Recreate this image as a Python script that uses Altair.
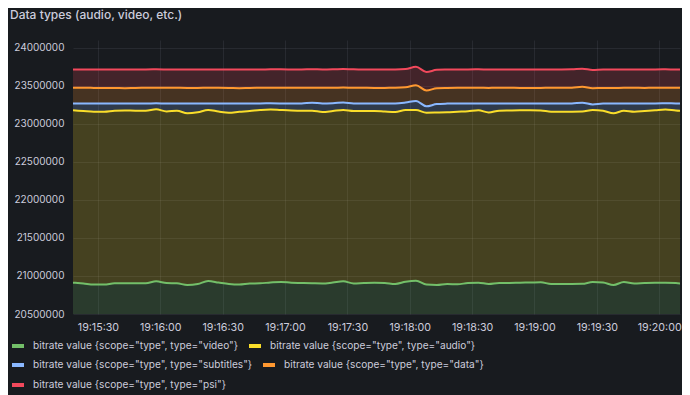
import altair as alt
import pandas as pd

# ---- data (values are stacked tops) ----
series_types = ["video", "audio", "subtitles", "data", "psi"]
series_colors = ["#73BF69", "#FADE2A", "#8AB8FF", "#FF9830", "#F2495C"]

# sample times: every 5 s from 19:15:18 to 19:20:13
times = pd.date_range("2024-01-01 19:15:18", periods=60, freq="5s")

video_top = [20912000, 20901000, 20888000, 20888000, 20904000, 20904000, 20904000, 20904000, 20930000, 20908000,
             20904000, 20882000, 20895000, 20934000, 20914000, 20895000, 20888000, 20901000, 20904000, 20914000,
             20921000, 20912000, 20908000, 20904000, 20901000, 20914000, 20930000, 20901000, 20908000, 20912000,
             20908000, 20895000, 20924000, 20937000, 20888000, 20882000, 20895000, 20891000, 20908000, 20912000,
             20895000, 20908000, 20908000, 20912000, 20914000, 20917000, 20895000, 20895000, 20895000, 20897000,
             20921000, 20914000, 20882000, 20921000, 20901000, 20908000, 20912000, 20912000, 20908000, 20885000]

audio_top = [23180000, 23171000, 23162000, 23162000, 23175000, 23178000, 23175000, 23175000, 23193000, 23164000,
             23175000, 23141000, 23154000, 23184000, 23164000, 23149000, 23161000, 23171000, 23184000, 23191000,
             23184000, 23178000, 23175000, 23175000, 23158000, 23171000, 23184000, 23171000, 23171000, 23171000,
             23164000, 23158000, 23184000, 23184000, 23149000, 23151000, 23154000, 23161000, 23167000, 23180000,
             23151000, 23175000, 23178000, 23180000, 23180000, 23178000, 23162000, 23162000, 23162000, 23164000,
             23184000, 23175000, 23141000, 23175000, 23162000, 23171000, 23180000, 23191000, 23178000, 23171000]

subtitles_top = [23268000, 23270000, 23270000, 23269000, 23270000, 23271000, 23270000, 23270000, 23272000, 23270000,
                 23270000, 23268000, 23269000, 23271000, 23270000, 23269000, 23270000, 23270000, 23271000, 23272000,
                 23271000, 23270000, 23271000, 23281000, 23271000, 23272000, 23284000, 23271000, 23270000, 23270000,
                 23270000, 23270000, 23282000, 23303000, 23232000, 23262000, 23268000, 23270000, 23270000, 23271000,
                 23268000, 23270000, 23271000, 23271000, 23271000, 23271000, 23270000, 23270000, 23271000, 23280000,
                 23258000, 23268000, 23268000, 23270000, 23270000, 23271000, 23271000, 23272000, 23271000, 23270000]

data_top = [23476000, 23476000, 23475000, 23475000, 23474000, 23470000, 23474000, 23476000, 23477000, 23476000,
            23476000, 23475000, 23475000, 23476000, 23476000, 23474000, 23470000, 23474000, 23476000, 23477000,
            23477000, 23476000, 23476000, 23478000, 23476000, 23476000, 23480000, 23476000, 23476000, 23475000,
            23475000, 23476000, 23482000, 23510000, 23440000, 23470000, 23474000, 23476000, 23476000, 23477000,
            23475000, 23476000, 23476000, 23475000, 23474000, 23475000, 23476000, 23476000, 23478000, 23490000,
            23470000, 23474000, 23474000, 23476000, 23476000, 23475000, 23476000, 23477000, 23476000, 23476000]

psi_top = [23718000, 23718000, 23717000, 23717000, 23718000, 23716000, 23718000, 23718000, 23719000, 23718000,
           23718000, 23717000, 23718000, 23718000, 23718000, 23717000, 23716000, 23718000, 23718000, 23719000,
           23719000, 23718000, 23718000, 23720000, 23718000, 23719000, 23724000, 23719000, 23718000, 23717000,
           23717000, 23718000, 23724000, 23752000, 23684000, 23712000, 23716000, 23718000, 23718000, 23719000,
           23717000, 23718000, 23718000, 23718000, 23717000, 23717000, 23718000, 23718000, 23720000, 23728000,
           23710000, 23716000, 23716000, 23718000, 23718000, 23717000, 23718000, 23719000, 23718000, 23718000]

y_ticks = [20500000, 21000000, 21500000, 22000000, 22500000, 23000000, 23500000, 24000000]
x_tick_times = ["19:15:30", "19:16:00", "19:16:30", "19:17:00", "19:17:30",
                "19:18:00", "19:18:30", "19:19:00", "19:19:30", "19:20:00"]

# ---- build the long table ----
labels = [f'bitrate value {{scope="type", type="{s}"}}' for s in series_types]
tops = [video_top, audio_top, subtitles_top, data_top, psi_top]
rows = []
for k, lab in enumerate(labels):
    for i, t in enumerate(times):
        rows.append({
            "time": t.strftime("%Y-%m-%dT%H:%M:%S"),
            "label": lab,
            "label_b": lab,
            "band": lab,
            "top": tops[k][i],
            "bottom": tops[k - 1][i] if k > 0 else 0,
        })
df = pd.DataFrame(rows)


def dt(hms):
    h, m, s = (int(v) for v in hms.split(":"))
    return alt.DateTime(year=2024, month=1, date=1, hours=h, minutes=m, seconds=s)


TXT = "#ccccdc"
FONT = "Inter"
LFS = 10.1

x_enc = alt.X(
    "time:T",
    title=None,
    scale=alt.Scale(domain=[dt("19:15:18"), dt("19:20:10")]),
    axis=alt.Axis(values=[dt(v) for v in x_tick_times], format="%H:%M:%S",
                  labelColor=TXT, labelFontSize=10.7, labelFont=FONT, ticks=False,
                  domain=False, labelPadding=8, gridColor=TXT, gridOpacity=0.09,
                  labelFlush=False),
)
y_scale = alt.Scale(domain=[20500000, 24105000], nice=False, zero=False)
y_enc = alt.Y(
    "top:Q",
    title=None,
    scale=y_scale,
    axis=alt.Axis(values=y_ticks, format="d", labelColor=TXT, labelFontSize=10,
                  labelFont=FONT, ticks=False, domain=False, labelPadding=9,
                  gridColor=TXT, gridOpacity=0.09),
)


def legend_params(ly):
    return dict(
        title=None, orient="none", legendX=-63, legendY=ly,
        direction="horizontal", columns=2,
        symbolType="stroke", symbolStrokeWidth=4, symbolSize=144,
        labelColor=TXT, labelFontSize=LFS, labelFont=FONT, labelLimit=0,
        columnPadding=2, rowPadding=4, labelOffset=7,
    )


base = alt.Chart(df)

area = base.mark_area(interpolate="monotone", fillOpacity=0.2, clip=True).encode(
    x=x_enc,
    y=y_enc,
    y2="bottom:Q",
    fill=alt.Fill("band:N", scale=alt.Scale(domain=labels, range=series_colors), legend=None),
)

line_a = base.transform_filter(
    alt.FieldOneOfPredicate(field="label", oneOf=labels[:2])
).mark_line(interpolate="monotone", strokeWidth=2, clip=True).encode(
    x=x_enc,
    y=y_enc,
    color=alt.Color(
        "label:N",
        scale=alt.Scale(domain=labels[:2], range=series_colors[:2]),
        sort=labels[:2],
        legend=alt.Legend(**legend_params(298)),
    ),
)

line_b = base.transform_filter(
    alt.FieldOneOfPredicate(field="label_b", oneOf=labels[2:])
).mark_line(interpolate="monotone", strokeWidth=2, clip=True).encode(
    x=x_enc,
    y=y_enc,
    stroke=alt.Stroke(
        "label_b:N",
        scale=alt.Scale(domain=labels[2:], range=series_colors[2:]),
        sort=labels[2:],
        legend=alt.Legend(**legend_params(317)),
    ),
)

chart = (
    alt.layer(area, line_a, line_b)
    .properties(
        width=607,
        height=274,
        background="#181b1f",
        padding={"left": 65, "top": 32, "right": 2, "bottom": 81},
        autosize=alt.AutoSizeParams(type="none"),
        title=alt.TitleParams(
            "Data types (audio, video, etc.)", anchor="start", frame="group",
            dx=-63, offset=18, fontSize=12, fontWeight=500, color=TXT, font=FONT,
        ),
    )
    .configure_view(stroke=None)
)

chart.save("out.html", embed_options={"renderer": "svg", "actions": False})
